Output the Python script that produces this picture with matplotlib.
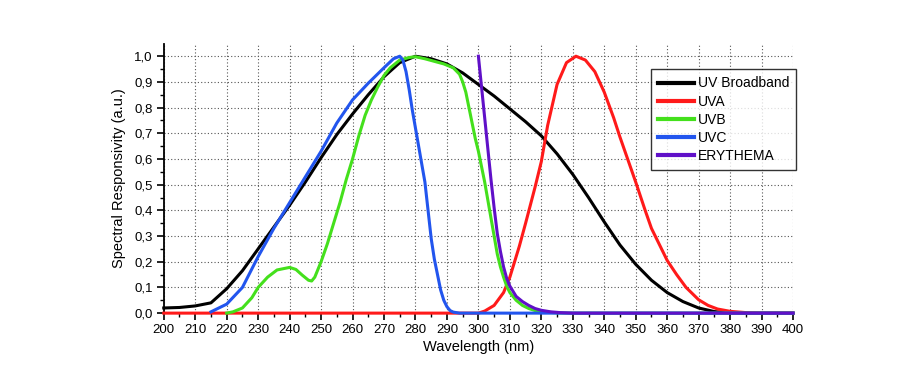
import matplotlib
matplotlib.use("Agg")
import matplotlib.pyplot as plt
from matplotlib.ticker import MultipleLocator, FuncFormatter

plt.rcParams['font.family'] = ['Liberation Sans', 'DejaVu Sans']

# UV Broadband (black)
bb_x = [200, 205, 210, 215, 220, 225, 230, 235, 240, 245, 250, 255, 260, 265, 270, 275, 280,
        285, 290, 295, 300, 305, 310, 315, 320, 325, 330, 335, 340, 345, 350, 355, 360, 365,
        370, 375, 380, 385, 390, 395, 400]
bb_y = [0.020, 0.022, 0.028, 0.040, 0.095, 0.165, 0.250, 0.335, 0.420, 0.510, 0.605, 0.695,
        0.775, 0.850, 0.920, 0.975, 1.000, 0.990, 0.970, 0.935, 0.890, 0.845, 0.795, 0.745,
        0.690, 0.620, 0.540, 0.450, 0.355, 0.265, 0.190, 0.128, 0.080, 0.045, 0.020, 0.006,
        0.001, 0.0, 0.0, 0.0, 0.0]

# UVA (red)
uva_x = [200, 300, 302, 305, 308, 310, 313, 315, 318, 320, 322, 325, 328, 331, 334, 337, 340,
         343, 345, 348, 350, 353, 355, 357, 360, 363, 366, 370, 373, 376, 380, 385, 390, 400]
uva_y = [0.0, 0.0, 0.008, 0.030, 0.080, 0.140, 0.260, 0.350, 0.490, 0.590, 0.730, 0.890,
         0.975, 1.000, 0.985, 0.940, 0.860, 0.760, 0.685, 0.580, 0.510, 0.400, 0.330, 0.280,
         0.205, 0.150, 0.100, 0.052, 0.030, 0.016, 0.007, 0.002, 0.0, 0.0]

# UVB (green)
uvb_x = [220, 222, 225, 228, 230, 233, 236, 240, 242, 244, 246, 247, 248, 250, 252, 254, 256,
         258, 260, 262, 264, 266, 268, 270, 272, 275, 278, 280, 283, 286, 289, 292, 294, 295,
         296, 297, 298, 299, 300, 301, 302, 303, 304, 305, 306, 307, 308, 309, 310, 312, 314,
         316, 318, 320, 325, 330, 400]
uvb_y = [0.0, 0.005, 0.020, 0.060, 0.100, 0.140, 0.168, 0.178, 0.170, 0.148, 0.128, 0.125,
         0.140, 0.200, 0.270, 0.350, 0.430, 0.520, 0.600, 0.690, 0.770, 0.830, 0.880, 0.925,
         0.955, 0.985, 0.995, 0.998, 0.990, 0.980, 0.970, 0.955, 0.930, 0.900, 0.860, 0.800,
         0.740, 0.680, 0.630, 0.570, 0.510, 0.440, 0.370, 0.300, 0.230, 0.180, 0.140, 0.105,
         0.080, 0.050, 0.030, 0.018, 0.010, 0.005, 0.001, 0.0, 0.0]

# UVC (blue)
uvc_x = [215, 220, 225, 230, 235, 240, 245, 250, 255, 260, 265, 270, 273, 275, 276, 277, 278,
         279, 280, 281, 282, 283, 284, 285, 286, 287, 288, 289, 290, 291, 292, 294, 300, 400]
uvc_y = [0.005, 0.035, 0.100, 0.220, 0.330, 0.430, 0.530, 0.630, 0.740, 0.830, 0.895, 0.955,
         0.990, 1.000, 0.985, 0.940, 0.870, 0.790, 0.720, 0.650, 0.580, 0.510, 0.400, 0.290,
         0.210, 0.150, 0.090, 0.050, 0.025, 0.010, 0.004, 0.0, 0.0, 0.0]

# ERYTHEMA (purple)
ery_x = [300, 301, 302, 303, 304, 305, 306, 307, 308, 309, 310, 312, 314, 316, 318, 320, 323,
         326, 330, 400]
ery_y = [1.000, 0.880, 0.760, 0.640, 0.520, 0.410, 0.310, 0.240, 0.180, 0.135, 0.105, 0.065,
         0.045, 0.030, 0.018, 0.011, 0.005, 0.002, 0.0, 0.0]

labels = ["UV Broadband", "UVA", "UVB", "UVC", "ERYTHEMA"]
colors = ["#000000", "#ff1a1a", "#44e01c", "#2255ee", "#6010c8"]

x_ticks = list(range(200, 401, 10))
y_ticks = [i / 10 for i in range(11)]

fig = plt.figure(figsize=(9.2, 3.75), dpi=100)
ax = fig.add_axes([0.178, 0.165, 0.684, 0.718])

series = [(bb_x, bb_y), (uva_x, uva_y), (uvb_x, uvb_y), (uvc_x, uvc_y), (ery_x, ery_y)]
for (xs, ys), lab, c in zip(series, labels, colors):
    ax.plot(xs, ys, color=c, lw=2.2, label=lab, solid_joinstyle='round',
            clip_on=False, zorder=3)

ax.set_xlim(200, 400)
ax.set_ylim(0, 1.048)
ax.set_xticks(x_ticks)
ax.set_yticks(y_ticks)
ax.xaxis.set_minor_locator(MultipleLocator(5))
ax.yaxis.set_minor_locator(MultipleLocator(0.05))
ax.yaxis.set_major_formatter(FuncFormatter(lambda v, p: f"{v:.1f}".replace('.', ',')))
ax.tick_params(which='major', direction='out', length=5, width=1.2, labelsize=9.5, pad=3)
ax.tick_params(which='minor', direction='out', length=3, width=1.0)

for s in ['top', 'right']:
    ax.spines[s].set_visible(False)
for s in ['left', 'bottom']:
    ax.spines[s].set_linewidth(1.3)
    ax.spines[s].set_zorder(2.5)

ax.grid(True, which='major', linestyle=(0, (1, 2)), color='#555555', linewidth=0.8)
ax.set_axisbelow(True)

ax.set_xlabel("Wavelength (nm)", fontsize=10.5, labelpad=3)
ax.set_ylabel("Spectral Responsivity (a.u.)", fontsize=10.5, labelpad=6)

leg = ax.legend(loc='upper right', bbox_to_anchor=(1.005, 0.905), fontsize=10,
                frameon=True, fancybox=False, handlelength=2.6, handletextpad=0.3,
                labelspacing=0.3, borderpad=0.5, borderaxespad=0)
leg.set_zorder(5)
leg.get_frame().set_edgecolor('black')
leg.get_frame().set_linewidth(1.0)
for line in leg.get_lines():
    line.set_linewidth(3)

fig.savefig("out.png", dpi=100, facecolor='white')
